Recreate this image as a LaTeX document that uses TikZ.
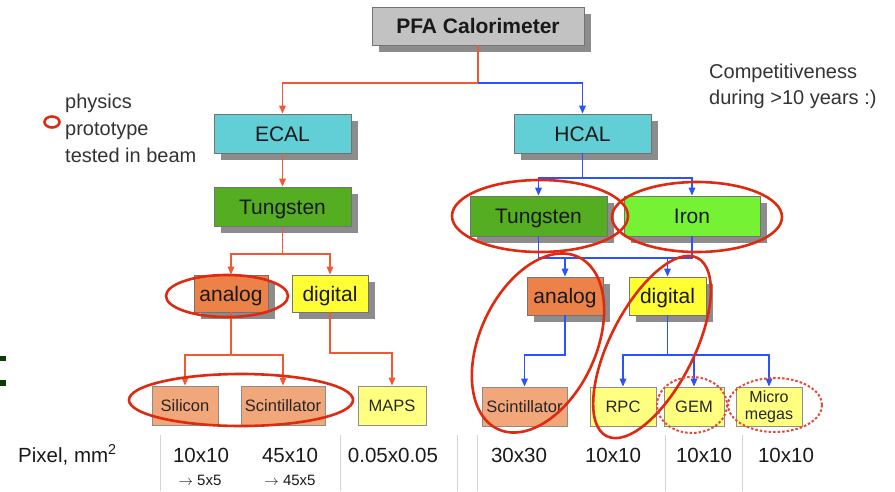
\documentclass[tikz,border=0pt]{standalone}
\usepackage{fontspec}
\setmainfont{Liberation Sans}
\usetikzlibrary{arrows.meta, shadows}
\definecolor{PFAGray}{HTML}{C2C2C2}
\definecolor{CalCyan}{HTML}{62CED6}
\definecolor{WGreen}{HTML}{55AE22}
\definecolor{FeGreen}{HTML}{76F235}
\definecolor{AnaOrange}{HTML}{EC8248}
\definecolor{DigYellow}{HTML}{FFFF33}
\definecolor{ReadOrange}{HTML}{F2A77A}
\definecolor{ReadYellow}{HTML}{FFFF80}
\definecolor{ECALRed}{HTML}{F05A32}
\definecolor{HCALBlue}{HTML}{2B52FF}
\definecolor{RingRed}{HTML}{DF2A12}
\definecolor{SepGray}{HTML}{D4D4D4}
\definecolor{TitleGreen}{HTML}{0E3A08}

\begin{document}
\begin{tikzpicture}[x=1pt, y=-1pt, >={Triangle[length=8pt, width=6.5pt]},
    box/.style={draw=black!55, line width=0.7pt, inner sep=0pt, text=black!90,
                font=\fontsize{21}{24}\selectfont, text height=15pt, text depth=0pt,
                drop shadow={shadow xshift=7pt, shadow yshift=-7pt,
                             fill=black!45, opacity=1}},
    small/.style={draw=black!45, line width=0.7pt, inner sep=0pt, text=black!85,
                  font=\fontsize{16.5}{19}\selectfont, minimum height=39pt},
    oneline/.style={small, text height=12pt, text depth=0pt},
    redline/.style={ECALRed, line width=1.6pt},
    blueline/.style={HCALBlue, line width=1.6pt},
    ring/.style={RingRed, line width=2.6pt},
    dotring/.style={RingRed!85, line width=2pt, dash pattern=on 2.5pt off 2pt},
    note/.style={inner sep=0pt, align=left, text=black!80,
                 font=\fontsize{20}{27}\selectfont},
    value/.style={anchor=base, inner sep=0pt, text=black!90,
                  font=\fontsize{20.5}{24}\selectfont}]
  \useasboundingbox (0,0) rectangle (895,491);

  % Calorimeter and its two parts
  \node[box, fill=PFAGray, minimum width=212pt, minimum height=38pt,
        font=\fontsize{21}{24}\selectfont\bfseries] (pfa) at (478,26) {PFA Calorimeter};
  \node[box, fill=CalCyan, minimum width=137pt, minimum height=39pt] (ecal) at (282.5,133.5) {ECAL};
  \node[box, fill=CalCyan, minimum width=137pt, minimum height=39pt] (hcal) at (582.5,133.5) {HCAL};

  % Absorbers
  \node[box, fill=WGreen, minimum width=137pt, minimum height=39pt] (ecalw) at (282.5,206.5) {Tungsten};
  \node[box, fill=WGreen, minimum width=137pt, minimum height=40pt] (hcalw) at (538.5,216) {Tungsten};
  \node[box, fill=FeGreen, minimum width=136pt, minimum height=40pt] (hcalfe) at (692,216) {Iron};

  % Readout
  \node[box, fill=AnaOrange, minimum width=74pt, minimum height=37pt] (eana) at (231,293.5) {analog};
  \node[box, fill=DigYellow, minimum width=76pt, minimum height=37pt] (edig) at (330,293.5) {digital};
  \node[box, fill=AnaOrange, minimum width=76pt, minimum height=38pt] (hana) at (565,296) {analog};
  \node[box, fill=DigYellow, minimum width=77pt, minimum height=38pt] (hdig) at (667.5,296) {digital};

  % Active media
  \node[oneline, fill=ReadOrange, minimum width=66pt] (esi) at (185,405.5) {Silicon};
  \node[oneline, fill=ReadOrange, minimum width=84pt] (escin) at (283,405.5) {Scintillator};
  \node[oneline, fill=ReadYellow, minimum width=68pt] (maps) at (392,405.5) {MAPS};
  \node[oneline, fill=ReadOrange, minimum width=85pt] (hscin) at (524.5,406.5) {Scintillator};
  \node[oneline, fill=ReadYellow, minimum width=66pt] (rpc) at (623,406.5) {RPC};
  \node[oneline, fill=ReadYellow, minimum width=60pt] (gem) at (694,406.5) {GEM};
  \node[small, fill=ReadYellow, minimum width=66pt, align=center,
        font=\fontsize{16}{17}\selectfont] (mm) at (769,406.5) {Micro\\megas};

  % ECAL branch
  \coordinate (jtop) at (pfa.south |- 0,83);
  \draw[redline, ->] (pfa.south) -- (jtop) -| (ecal.north);
  \draw[redline, ->] (ecal) -- (ecalw);
  \coordinate (jew) at (ecalw.south |- 0,254);
  \draw[redline, ->] (ecalw.south) -- (jew) -| (eana.north);
  \draw[redline, ->] (jew) -| (edig.north);
  \coordinate (jea) at (eana.south |- 0,355);
  \draw[redline, ->] (eana.south) -- (jea) -| (esi.north);
  \draw[redline, ->] (jea) -| (escin.north);
  \coordinate (jed) at (edig.south |- 0,353);
  \draw[redline, ->] (edig.south) -- (jed) -| (maps.north);

  % HCAL branch
  \draw[blueline, ->] (jtop) -| (hcal.north);
  \coordinate (jh) at (hcal.south |- 0,178);
  \draw[blueline, ->] (hcal.south) -- (jh) -| (hcalw.north);
  \draw[blueline, ->] (jh) -| (hcalfe.north);
  \coordinate (jhw) at (hcalw.south |- 0,258);
  \coordinate (jhfe) at (hcalfe.south |- 0,258);
  \draw[blueline] (hcalw.south) -- (jhw) -- (jhfe) -- (hcalfe.south);
  \draw[blueline, ->] (hana.north |- jhw) -- (hana.north);
  \draw[blueline, ->] (hdig.north |- jhw) -- (hdig.north);
  \coordinate (jha) at (hana.south |- 0,355);
  \draw[blueline, ->] (hana.south) -- (jha) -| (hscin.north);
  \coordinate (jhd) at (hdig.south |- 0,355);
  \draw[blueline, ->] (hdig.south) -- (jhd) -| (rpc.north);
  \draw[blueline, ->] (jhd) -| (gem.north);
  \draw[blueline, ->] (jhd) -| (mm.north);

  % Prototypes tested in beam
  \draw[ring] (227,296) ellipse [x radius=61, y radius=21];
  \draw[ring] (241,400) ellipse [x radius=112, y radius=26];
  \draw[ring] (540,216) ellipse [x radius=88, y radius=36];
  \draw[ring] (697,217) ellipse [x radius=85, y radius=35];
  \draw[ring] (538,343) ellipse [x radius=95, y radius=58, rotate=65];
  \draw[ring] (652,347) ellipse [x radius=100, y radius=42, rotate=63];
  \draw[dotring] (692,405) ellipse [x radius=35, y radius=28];
  \draw[dotring] (775,405) ellipse [x radius=47, y radius=27];

  % Legend and remark
  \draw[ring] (52,122) ellipse [x radius=7.5, y radius=5.5];
  \node[note, anchor=north west] (legend) at (65,93.5) {physics\\prototype\\tested in beam};
  \node[note, anchor=north west, font=\fontsize{20}{26}\selectfont] (claim) at (709,63.5)
    {Competitiveness\\during >10 years :)};

  % Pixel sizes
  \foreach \sx in {160,340,457,477,665,742}
    \draw[SepGray, line width=1pt] (\sx,435) -- (\sx,491);
  \node[value, anchor=base west] (pixlabel) at (18,462) {Pixel, mm\textsuperscript{2}};
  \node[value] (px1) at (201,462) {10x10};
  \node[value] (px2) at (290,462) {45x10};
  \node[value] (px3) at (393,462) {0.05x0.05};
  \node[value] (px4) at (519,462) {30x30};
  \node[value] (px5) at (613,462) {10x10};
  \node[value] (px6) at (704,462) {10x10};
  \node[value] (px7) at (786,462) {10x10};
  \node[value, font=\fontsize{15}{18}\selectfont] (px1b) at (200,485) {$\to$ 5x5};
  \node[value, font=\fontsize{15}{18}\selectfont] (px2b) at (290,485) {$\to$ 45x5};

  % cut-off title letter at the left edge
  \fill[TitleGreen] (0,356) rectangle (6,361);
  \fill[TitleGreen] (0,380) rectangle (6,386);
\end{tikzpicture}
\end{document}
